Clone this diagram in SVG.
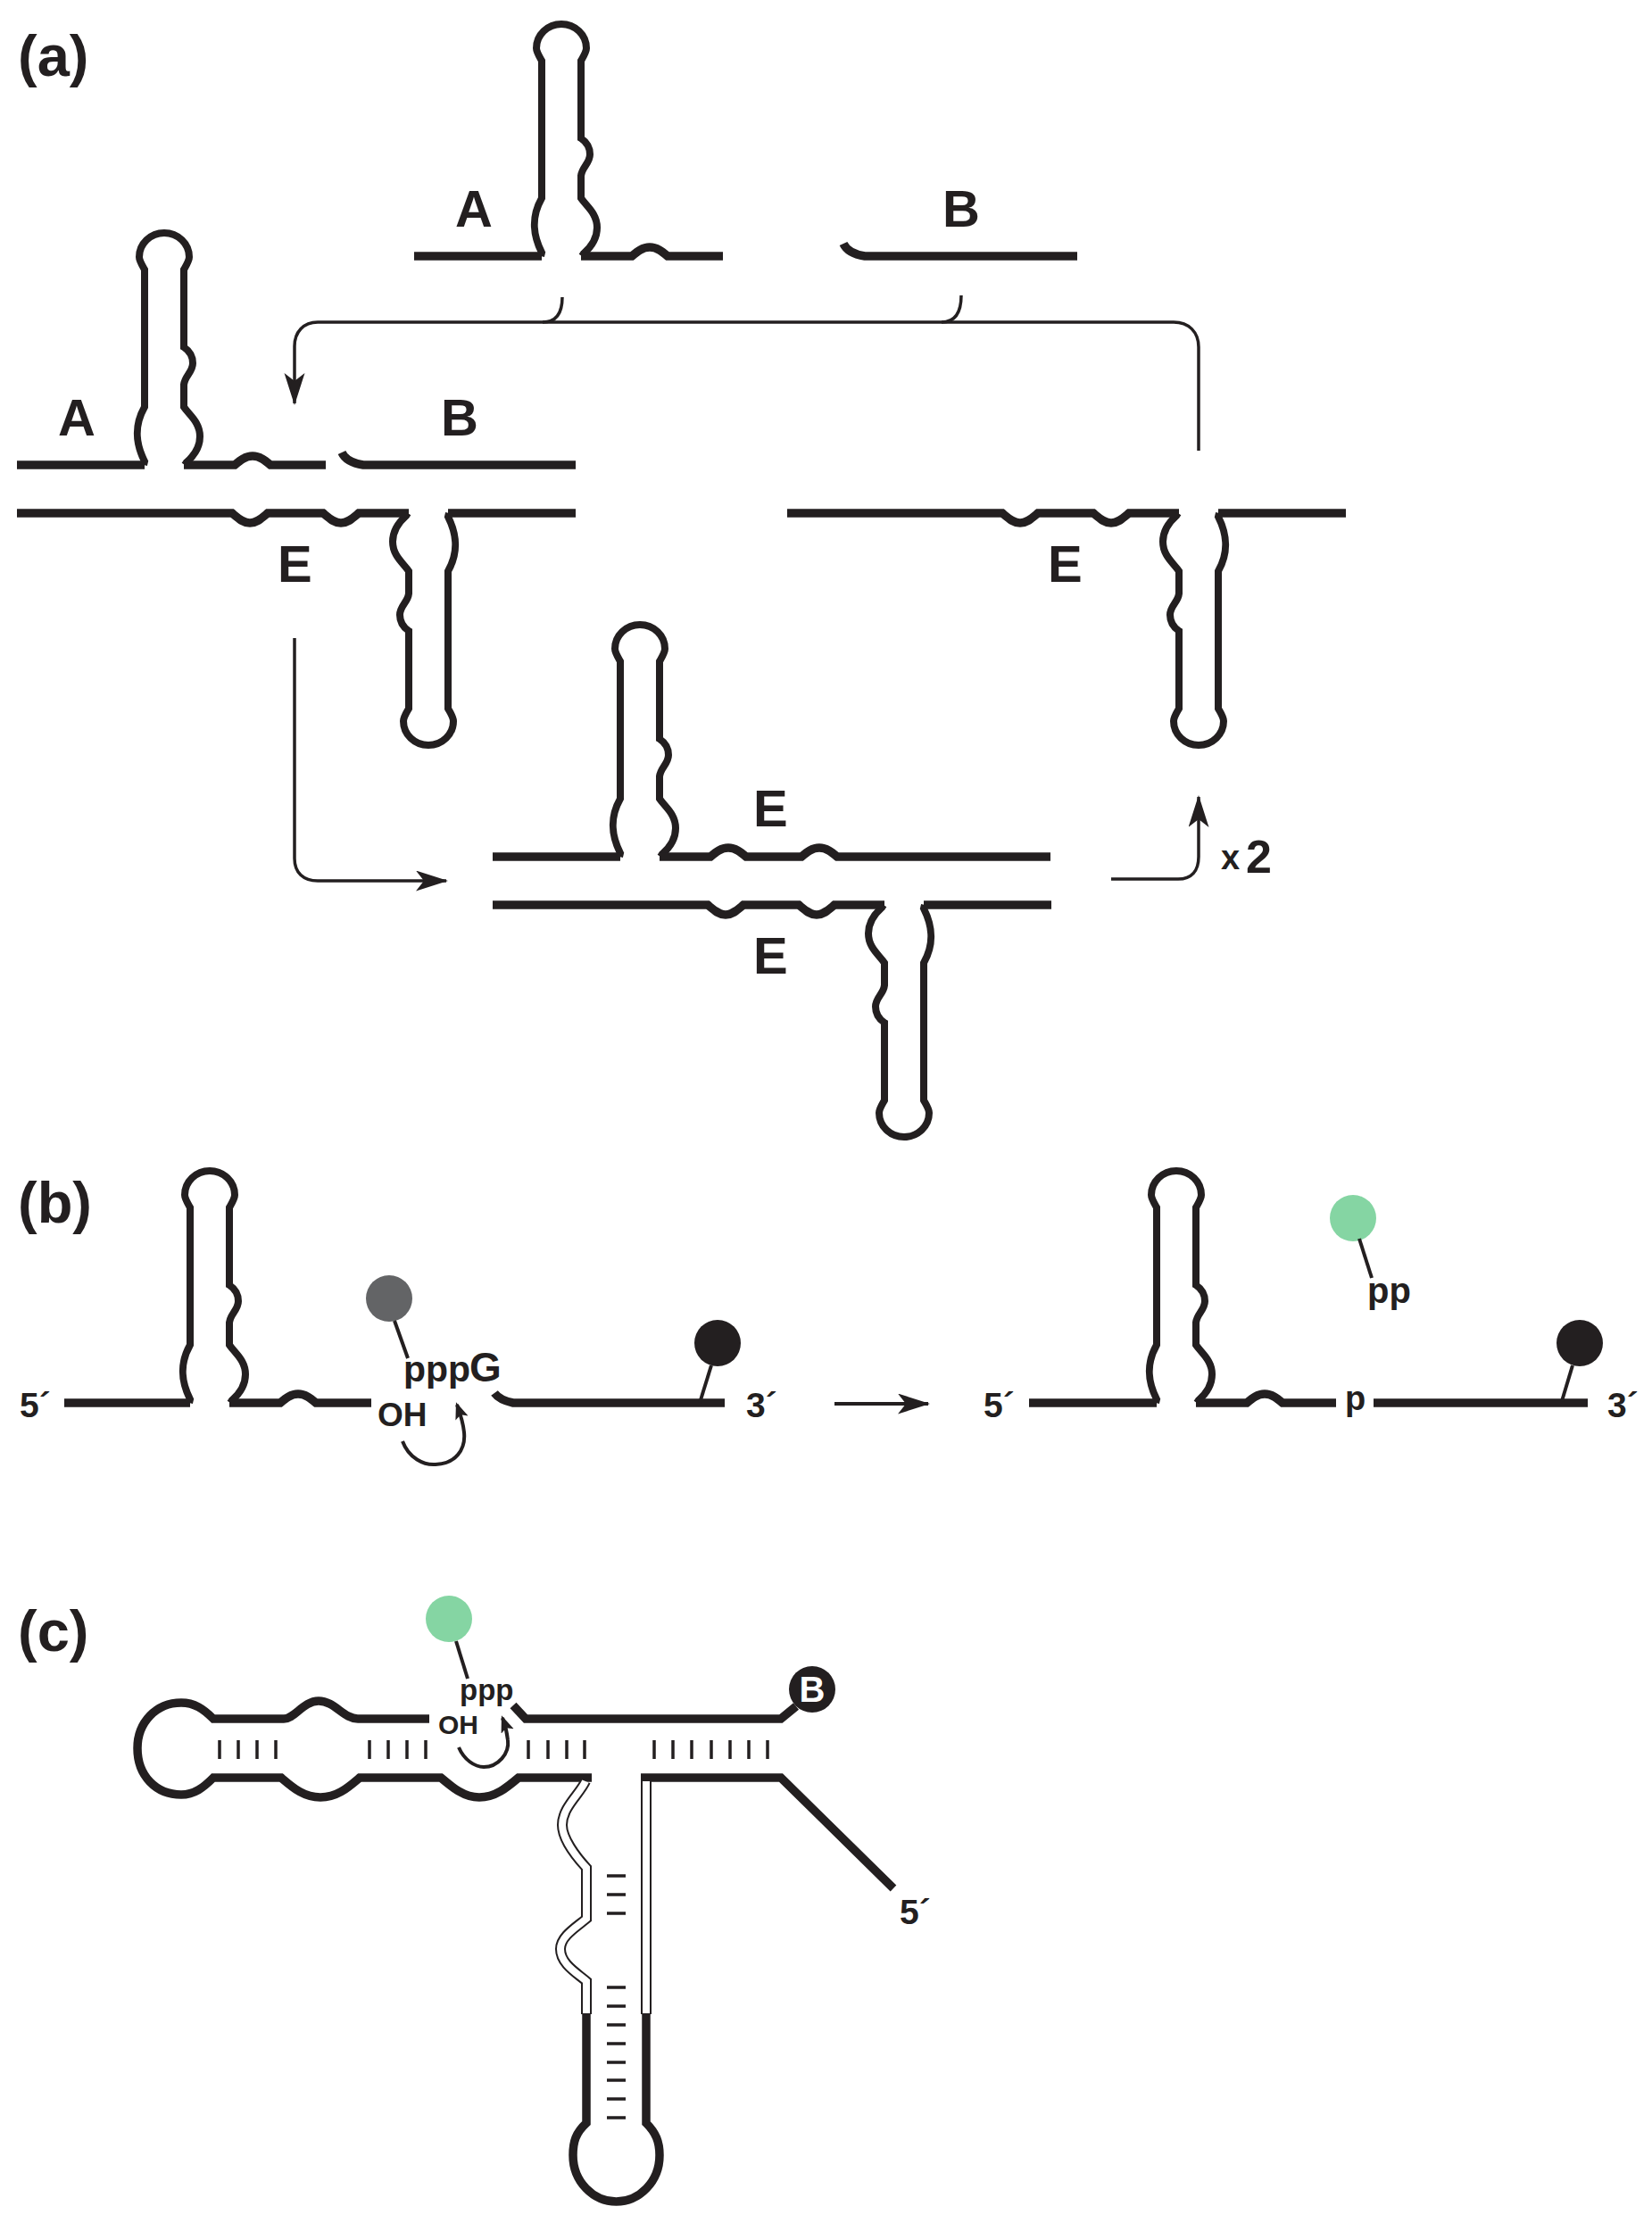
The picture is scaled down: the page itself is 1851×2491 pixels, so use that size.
<svg xmlns="http://www.w3.org/2000/svg" width="1851" height="2491" viewBox="0 0 1851 2491">
<style>
text{font-family:"Liberation Sans",Arial,sans-serif;font-weight:700;fill:#231f20}
.hp{fill:none;stroke:#231f20;stroke-width:8}
.st{fill:none;stroke:#231f20;stroke-width:9.5}
.ar{fill:none;stroke:#231f20;stroke-width:3.5}
.cv{fill:none;stroke:#231f20;stroke-width:4}
.tk{fill:none;stroke:#231f20;stroke-width:3.5}
.pin{fill:none;stroke:#231f20;stroke-width:4}
.panel{font-size:65px}
.big{font-size:58px}
.sm{font-size:39px}
</style>
<defs>
<marker id="head" markerUnits="userSpaceOnUse" markerWidth="37" markerHeight="24" refX="34" refY="11.5" orient="auto"><path d="M0,0 L36,11.5 L0,23 L9,11.5 Z" fill="#231f20"/></marker>
<marker id="headS" markerUnits="userSpaceOnUse" markerWidth="20" markerHeight="16" refX="16" refY="7.5" orient="auto"><path d="M0,0 L19,7.5 L0,15 L4,7.5 Z" fill="#231f20"/></marker>
<path id="hairpin" class="hp" d="M-23,0 L-22,-4 C-31,-22 -35,-42 -22,-65 V-219 C-26,-226 -28,-229 -28,-233 A28,27 0 1 1 28,-233 C28,-229 26,-226 22,-219 V-132 C28,-128 32,-122 32,-114 C32,-104 23,-100 22,-90 V-65 C28,-56 40,-48 40,-32 C40,-20 33,-10 25,-3 L23,0"/>
<g id="strandA"><use href="#hairpin"/><path class="st" d="M-165,0 H-22 M22,0 H79 c6,-5 12,-10 20,-10 s14,5 20,10 H181"/></g>
<g id="strandE"><use href="#hairpin" transform="rotate(180)"/><path class="st" d="M-461,0 H-220 c6,5 12,11 20,11 s14,-6 20,-11 H-118 c6,5 12,11 20,11 s14,-6 20,-11 H-22 M22,0 H165"/></g>
</defs>

<g id="connectors">
<path class="ar" marker-end="url(#head)" d="M1343,505 V389 C1343,372 1332,361 1315,361 H356 C340,361 330,372 330,388 V452"/>
<path class="ar" d="M630,333 C630,348 625,361 608,361"/>
<path class="ar" d="M1077,331 C1077,348 1072,361 1055,361"/>
<path class="ar" marker-end="url(#head)" d="M330,715 V962 C330,978 340,987 356,987 H500"/>
<path class="ar" marker-end="url(#head)" d="M1245,985 H1320 C1335,985 1343,976 1343,960 V893"/>
<path class="cv" marker-end="url(#head)" d="M935,1573 H1040"/>
</g>

<g id="panel-a-labels">
<text class="panel" x="20" y="85">(a)</text>
</g>
<g id="node-A-free"><use href="#strandA" x="629" y="287"/><text class="big" x="510" y="254">A</text></g>
<g id="node-B-free"><path class="st" d="M945,273 Q950,284 969,287 H1207"/><text class="big" x="1056" y="254">B</text></g>
<g id="node-AB-bound"><use href="#strandA" x="184" y="521"/><path class="st" d="M383,507 Q388,518 407,521 H645"/><text class="big" x="65" y="488">A</text><text class="big" x="494" y="488">B</text></g>
<g id="node-E-left"><use href="#strandE" x="480" y="575"/><text class="big" x="311" y="652">E</text></g>
<g id="node-E-right"><use href="#strandE" x="1343" y="575"/><text class="big" x="1174" y="652">E</text></g>
<g id="node-complex"><use href="#hairpin" x="717" y="960"/><path class="st" d="M552,960 H695 M739,960 H796 c6,-5 12,-10 20,-10 s14,5 20,10 H898 c6,-5 12,-10 20,-10 s14,5 20,10 H1177"/><text class="big" x="844" y="926">E</text>
<use href="#strandE" x="1013" y="1014"/><text class="big" x="844" y="1091">E</text>
<text x="1368" y="974" font-size="38">x</text><text x="1396" y="978" font-size="52">2</text></g>

<g id="panel-b">
<text class="panel" x="20" y="1370">(b)</text>
</g>
<g id="node-b-substrate">
<use href="#hairpin" x="235" y="1572"/>
<path class="st" d="M72,1572 H213 M257,1572 H314 c6,-5 12,-10 20,-10 s14,5 20,10 H416"/>
<path class="st" d="M554,1561 Q560,1569 575,1572 H812"/>
<text class="sm" x="22" y="1588">5´</text><text class="sm" x="836" y="1588">3´</text>
<circle cx="436" cy="1455" r="26" fill="#636466"/><path class="pin" d="M442,1480 L457,1522"/>
<circle cx="804" cy="1505" r="26" fill="#231f20"/><path class="pin" d="M797,1530 L784,1572"/>
<text x="452" y="1548" font-size="41">ppp</text><text x="526" y="1548" font-size="46">G</text>
<text x="423" y="1598" font-size="37">OH</text>
<path class="cv" marker-end="url(#headS)" d="M451,1615 C458,1634 475,1642 488,1641 C510,1640 522,1625 520,1605 C519,1595 516,1585 512,1574"/>
</g>
<g id="node-b-product">
<use href="#hairpin" x="1318" y="1572"/>
<path class="st" d="M1153,1572 H1296 M1340,1572 H1397 c6,-5 12,-10 20,-10 s14,5 20,10 H1497 M1539,1572 H1779"/>
<text class="sm" x="1102" y="1588">5´</text><text class="sm" x="1801" y="1588">3´</text>
<text x="1507" y="1580" font-size="38">p</text>
<circle cx="1516" cy="1365" r="26" fill="#85d5a3"/><path class="pin" d="M1523,1388 L1537,1432"/>
<text x="1532" y="1460" font-size="40">pp</text>
<circle cx="1770" cy="1505" r="26" fill="#231f20"/><path class="pin" d="M1762,1530 L1750,1570"/>
</g>

<g id="panel-c">
<text class="panel" x="20" y="1850">(c)</text>
</g>
<g id="node-c-ribozyme">
<path class="st" d="M481,1926 H401 C385,1926 375,1906 357,1906 C340,1906 330,1926 318,1926 H239 C228,1915 218,1908 203,1908 C175,1908 154,1930 154,1959 C154,1990 175,2011 203,2011 C218,2011 228,2003 239,1992 H315 C328,2003 340,2014 359,2014 C378,2014 390,2003 403,1992 H494 C507,2003 520,2014 537,2014 C555,2014 568,2003 581,1992 H663"/>
<path class="st" d="M575,1911 L589,1926 H875 L892,1912"/>
<path class="st" d="M718,1992 H875 L1001,2116"/>
<path fill="none" stroke="#231f20" stroke-width="12" d="M656,1996 C650,2010 630,2025 630,2045 C630,2060 645,2080 657,2093 V2150 C645,2160 628,2170 628,2184 C628,2200 645,2210 657,2220 V2257 M724,1996 V2257"/>
<path fill="none" stroke="#fff" stroke-width="8" d="M656,1996 C650,2010 630,2025 630,2045 C630,2060 645,2080 657,2093 V2150 C645,2160 628,2170 628,2184 C628,2200 645,2210 657,2220 V2256 M724,1996 V2256"/>
<path class="st" d="M657,2257 V2379 C645,2390 642,2400 642,2415 C642,2445 665,2467 690.5,2467 C716,2467 739,2445 739,2415 C739,2400 735,2390 724,2379 V2257"/>
<path class="tk" d="M246,1950 V1971 M267,1950 V1971 M288,1950 V1971 M309,1950 V1971 M414,1950 V1971 M435,1950 V1971 M456,1950 V1971 M477,1950 V1971 M592,1950 V1971 M614,1950 V1971 M635,1950 V1971 M655,1950 V1971 M733,1950 V1971 M754,1950 V1971 M775,1950 V1971 M797,1950 V1971 M818,1950 V1971 M839,1950 V1971 M860,1950 V1971 M680,2102 H701 M680,2123 H701 M680,2144 H701 M680,2227 H701 M680,2248 H701 M680,2269 H701 M680,2290 H701 M680,2311 H701 M680,2331 H701 M680,2352 H701 M680,2373 H701"/>
<circle cx="503" cy="1814" r="26" fill="#85d5a3"/><path class="pin" d="M511,1839 L524,1881"/>
<text x="515" y="1905" font-size="33">ppp</text>
<text x="491" y="1943" font-size="30">OH</text>
<path class="cv" marker-end="url(#headS)" d="M514,1958 C520,1972 532,1980 542,1980 C558,1980 571,1965 569,1950 C568,1940 566,1933 563,1925"/>
<circle cx="910" cy="1893" r="26" fill="#231f20"/><text x="910" y="1907" font-size="40" text-anchor="middle" style="fill:#fff">B</text>
<text class="sm" x="1008" y="2156">5´</text>
</g>
</svg>
